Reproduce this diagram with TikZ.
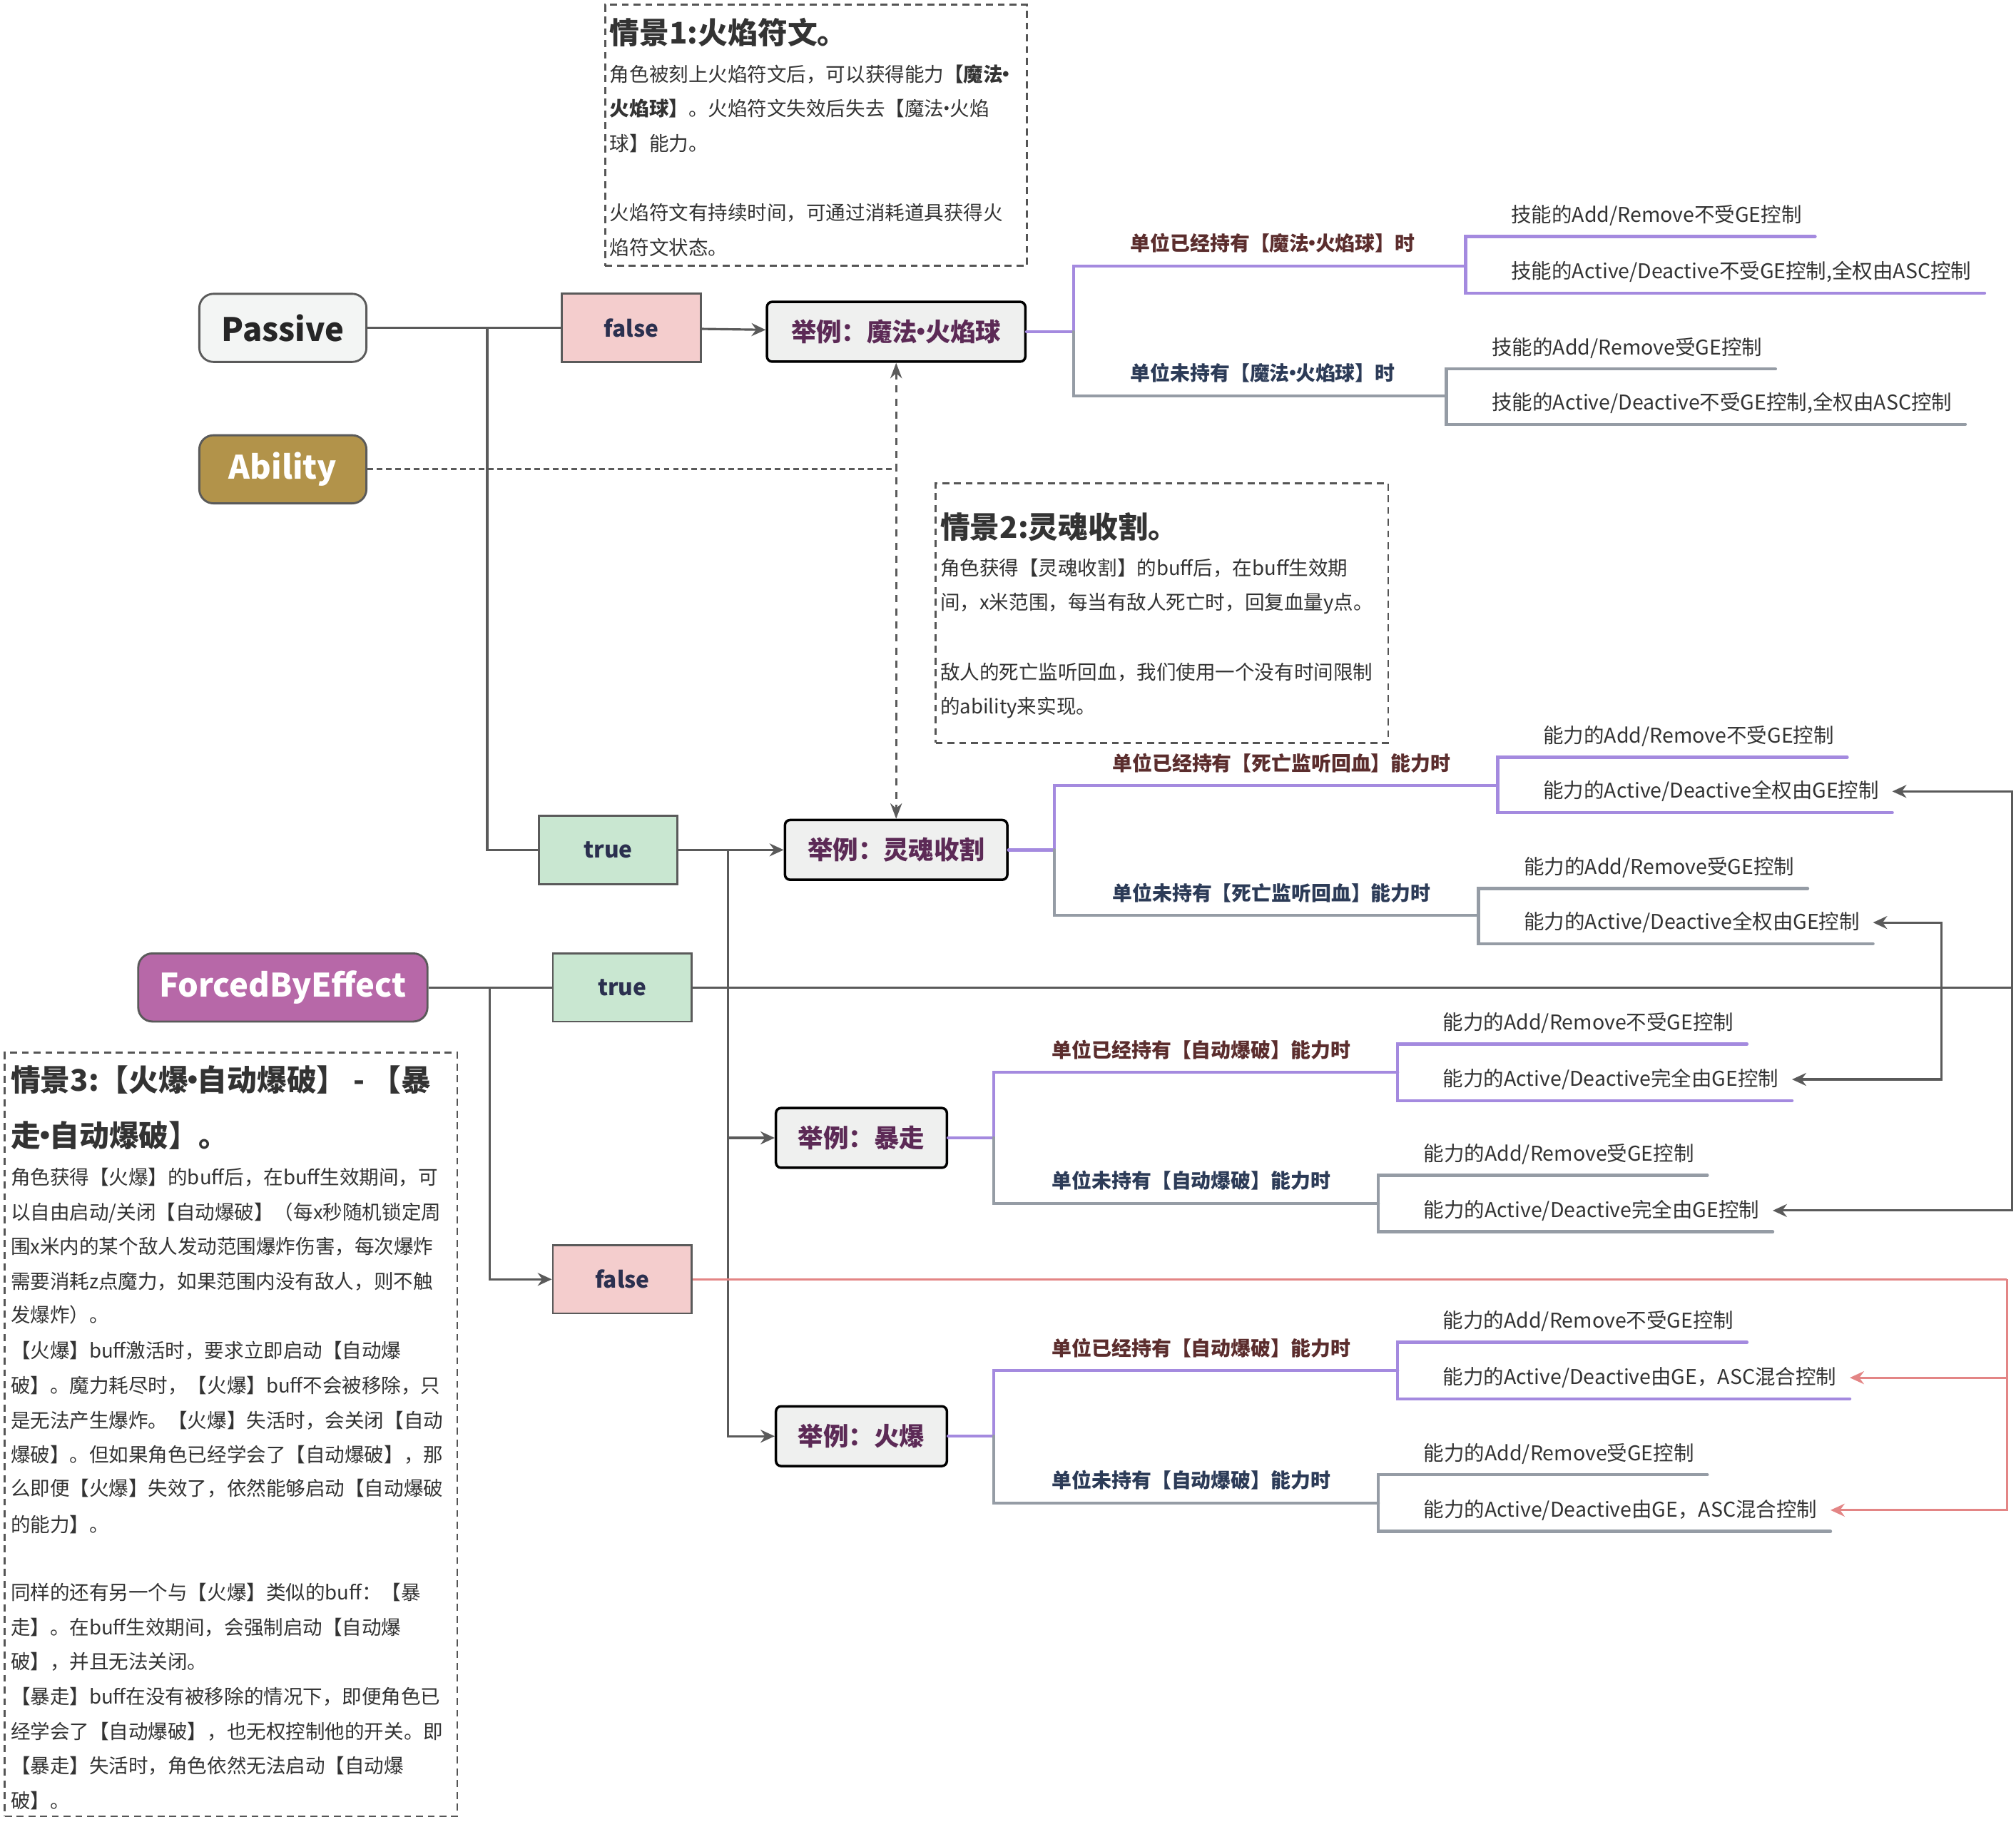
\documentclass[tikz,border=0pt]{standalone}
\usepackage{fontspec}
\setmainfont{Noto Sans CJK SC}
\usetikzlibrary{arrows.meta}
\definecolor{linegray}{HTML}{5A5A5A}
\definecolor{mmpurple}{HTML}{A48ADF}
\definecolor{mmgray}{HTML}{959CA5}
\definecolor{pinkline}{HTML}{E38585}
\definecolor{pasfill}{HTML}{F3F5F4}
\definecolor{ablfill}{HTML}{B2934A}
\definecolor{fbefill}{HTML}{B768A8}
\definecolor{falsefill}{HTML}{F4CDCD}
\definecolor{truefill}{HTML}{C9E7D1}
\definecolor{exfill}{HTML}{EFF0EF}
\definecolor{condtext}{HTML}{2B304F}
\definecolor{extext}{HTML}{5C2A56}
\definecolor{owncol}{HTML}{5B2D2D}
\definecolor{lackcol}{HTML}{2C3B57}
\definecolor{textdark}{HTML}{333333}
\definecolor{notegray}{HTML}{555555}
\newcommand{\ndot}{\makebox[0.3em][c]{·}}

\begin{document}
\begin{tikzpicture}[x=0.02cm, y=-0.02cm, >={Stealth[length=0.22cm,width=0.2cm]},
    conn/.style={draw=linegray, line width=1pt},
    pinkconn/.style={draw=pinkline, line width=1pt},
    pline/.style={draw=mmpurple, line width=1.4pt, line cap=round},
    gline/.style={draw=mmgray, line width=1.4pt, line cap=round},
    dotline/.style={draw=linegray, line width=1pt, dash pattern=on 2.5pt off 1.6pt},
    dashline/.style={draw=linegray, line width=1pt, dash pattern=on 3.2pt off 2.6pt, {Stealth[length=0.24cm,width=0.18cm]}-{Stealth[length=0.24cm,width=0.18cm]}},
    keybox/.style={draw=linegray, line width=0.9pt, rounded corners=0.22cm, minimum width=2.6cm, minimum height=1.06cm, font=\bfseries\fontsize{14.3}{16}\selectfont},
    condbox/.style={draw=linegray, line width=0.9pt, minimum width=2.16cm, minimum height=1.06cm, text=condtext, font=\bfseries\fontsize{10}{12}\selectfont},
    exbox/.style={draw=black, line width=1.1pt, rounded corners=0.08cm, fill=exfill, minimum height=0.93cm, text=extext, font=\bfseries\fontsize{11.2}{13}\selectfont},
    notebox/.style={draw=notegray, line width=0.85pt, dash pattern=on 3.1pt off 2.1pt, anchor=north west},
    titletext/.style={anchor=west, inner sep=0pt, text=textdark, font=\bfseries\fontsize{13.2}{15}\selectfont},
    bodytext/.style={anchor=west, inner sep=0pt, text height=0.8em, text depth=0.2em, text=textdark, font=\fontsize{8.7}{10}\selectfont},
    ownlabel/.style={anchor=west, inner sep=0pt, text height=0.8em, text depth=0.2em, text=owncol, font=\bfseries\fontsize{8.8}{10}\selectfont},
    lacklabel/.style={ownlabel, text=lackcol},
    leafnode/.style={anchor=west, inner xsep=0.2cm, inner ysep=0pt, text height=0.8em, text depth=0.2em, text=textdark, font=\fontsize{9}{10}\selectfont}]
    \useasboundingbox (0,0) rectangle (1568,1417);
    \fill[white] (0,0) rectangle (1568,1417);

    % situation notes
    \node[notebox, minimum width=6.56cm, minimum height=4.06cm] (s1) at (470,3) {};
    \node[titletext] (s1t) at (474,25) {情景1:火焰符文。};
    \foreach \Ypos/\LineText [count=\i] in {58/{角色被刻上火焰符文后，可以获得能力\textbf{【魔法\ndot}},
        85/{\textbf{火焰球】}。火焰符文失效后失去【魔法\ndot 火焰}, 112/{球】能力。},
        166/{火焰符文有持续时间，可通过消耗道具获得火}, 193/{焰符文状态。}}
        \node[bodytext] (s1l\i) at (474,\Ypos) {\LineText};

    \node[notebox, minimum width=7.04cm, minimum height=4.04cm] (s2) at (727,375) {};
    \node[titletext] (s2t) at (731,410) {情景2:灵魂收割。};
    \foreach \Ypos/\LineText [count=\i] in {442/{角色获得【灵魂收割】的buff后，在buff生效期},
        469/{间，x米范围，每当有敌人死亡时，回复血量y点。},
        523/{敌人的死亡监听回血，我们使用一个没有时间限制}, 550/{的ability来实现。}}
        \node[bodytext] (s2l\i) at (731,\Ypos) {\LineText};

    \node[notebox, minimum width=7.04cm, minimum height=11.88cm] (s3) at (3,818) {};
    \node[titletext] (s3t) at (8,840) {情景3:【火爆\ndot 自动爆破】 - 【暴};
    \node[titletext] (s3u) at (8,883) {走\ndot 自动爆破】。};
    \foreach \Ypos/\LineText [count=\i] in {916/{角色获得【火爆】的buff后，在buff生效期间，可},
        943/{以自由启动/关闭【自动爆破】（每x秒随机锁定周},
        970/{围x米内的某个敌人发动范围爆炸伤害，每次爆炸},
        997/{需要消耗z点魔力，如果范围内没有敌人，则不触},
        1023/{发爆炸）。},
        1051/{【火爆】buff激活时，要求立即启动【自动爆},
        1078/{破】。魔力耗尽时，【火爆】buff不会被移除，只},
        1105/{是无法产生爆炸。【火爆】失活时，会关闭【自动},
        1132/{爆破】。但如果角色已经学会了【自动爆破】，那},
        1158/{么即便【火爆】失效了，依然能够启动【自动爆破},
        1186/{的能力】。},
        1239/{同样的还有另一个与【火爆】类似的buff：【暴},
        1266/{走】。在buff生效期间，会强制启动【自动爆},
        1293/{破】，并且无法关闭。},
        1320/{【暴走】buff在没有被移除的情况下，即便角色已},
        1347/{经学会了【自动爆破】，也无权控制他的开关。即},
        1374/{【暴走】失活时，角色依然无法启动【自动爆},
        1401/{破】。}}
        \node[bodytext] (s3l\i) at (8,\Ypos) {\LineText};

    % tags and cases
    \node[keybox, fill=pasfill, text=black!85] (pas) at (220,255) {Passive};
    \node[keybox, fill=ablfill, text=white] (abl) at (220,365) {Ability};
    \node[keybox, fill=fbefill, text=white, minimum width=4.5cm] (fbe) at (220,768) {ForcedByEffect};
    \node[condbox, fill=falsefill] (fa1) at (491,255) {false};
    \node[condbox, fill=truefill] (tr1) at (473,661) {true};
    \node[condbox, fill=truefill] (tr2) at (484,768) {true};
    \node[condbox, fill=falsefill] (fa2) at (484,995) {false};
    \node[exbox, minimum width=4.02cm] (ex1) at (697,258) {举例：魔法\ndot 火焰球};
    \node[exbox, minimum width=3.46cm] (ex2) at (697,661) {举例：灵魂收割};
    \node[exbox, minimum width=2.66cm] (ex3) at (670,885) {举例：暴走};
    \node[exbox, minimum width=2.66cm] (ex4) at (670,1117) {举例：火爆};

    % 魔法·火焰球
    \coordinate (sa) at (835,258);
    \draw[pline] (ex1.east) -- (sa) |- (1140,207);
    \draw[gline] (sa) |- (1125,308);
    \node[ownlabel] (a1) at (879,190) {单位已经持有【魔法\ndot 火焰球】时};
    \node[lacklabel] (a2) at (879,291) {单位未持有【魔法\ndot 火焰球】时};
    \node[leafnode] (a11) at (1165,167.5) {技能的Add/Remove不受GE控制};
    \node[leafnode] (a12) at (1165,211.5) {技能的Active/Deactive不受GE控制,全权由ASC控制};
    \node[leafnode] (a21) at (1150,270.5) {技能的Add/Remove受GE控制};
    \node[leafnode] (a22) at (1150,313.5) {技能的Active/Deactive不受GE控制,全权由ASC控制};
    \draw[pline] (a11.east |- 0,184) -| (1140,228) -- (a12.east |- 0,228);
    \draw[gline] (a21.east |- 0,287) -| (1125,330) -- (a22.east |- 0,330);

    % 灵魂收割
    \coordinate (sb) at (820,661);
    \draw[pline] (ex2.east) -- (sb) |- (1165,611);
    \draw[gline] (sb) |- (1150,712);
    \node[ownlabel] (b1) at (865,594) {单位已经持有【死亡监听回血】能力时};
    \node[lacklabel] (b2) at (865,695) {单位未持有【死亡监听回血】能力时};
    \node[leafnode] (b11) at (1190,572.5) {能力的Add/Remove不受GE控制};
    \node[leafnode] (b12) at (1190,615.5) {能力的Active/Deactive全权由GE控制};
    \node[leafnode] (b21) at (1175,674.5) {能力的Add/Remove受GE控制};
    \node[leafnode] (b22) at (1175,717.5) {能力的Active/Deactive全权由GE控制};
    \draw[pline] (b11.east |- 0,589) -| (1165,632) -- (b12.east |- 0,632);
    \draw[gline] (b21.east |- 0,691) -| (1150,734) -- (b22.east |- 0,734);

    % 暴走
    \coordinate (sc) at (773,885);
    \draw[pline] (ex3.east) -- (sc) |- (1087,834);
    \draw[gline] (sc) |- (1072,936);
    \node[ownlabel] (c1) at (818,817) {单位已经持有【自动爆破】能力时};
    \node[lacklabel] (c2) at (818,919) {单位未持有【自动爆破】能力时};
    \node[leafnode] (c11) at (1112,795.5) {能力的Add/Remove不受GE控制};
    \node[leafnode] (c12) at (1112,839.5) {能力的Active/Deactive完全由GE控制};
    \node[leafnode] (c21) at (1097,897.5) {能力的Add/Remove受GE控制};
    \node[leafnode] (c22) at (1097,941.5) {能力的Active/Deactive完全由GE控制};
    \draw[pline] (c11.east |- 0,812) -| (1087,856) -- (c12.east |- 0,856);
    \draw[gline] (c21.east |- 0,914) -| (1072,958) -- (c22.east |- 0,958);

    % 火爆
    \coordinate (sd) at (773,1117);
    \draw[pline] (ex4.east) -- (sd) |- (1087,1066);
    \draw[gline] (sd) |- (1072,1169);
    \node[ownlabel] (d1) at (818,1049) {单位已经持有【自动爆破】能力时};
    \node[lacklabel] (d2) at (818,1152) {单位未持有【自动爆破】能力时};
    \node[leafnode] (d11) at (1112,1027.5) {能力的Add/Remove不受GE控制};
    \node[leafnode] (d12) at (1112,1071.5) {能力的Active/Deactive由GE，ASC混合控制};
    \node[leafnode] (d21) at (1097,1130.5) {能力的Add/Remove受GE控制};
    \node[leafnode] (d22) at (1097,1174.5) {能力的Active/Deactive由GE，ASC混合控制};
    \draw[pline] (d11.east |- 0,1044) -| (1087,1088) -- (d12.east |- 0,1088);
    \draw[gline] (d21.east |- 0,1147) -| (1072,1191) -- (d22.east |- 0,1191);

    % connectors
    \coordinate (p1) at (379,255);
    \coordinate (t1) at (566,661);
    \coordinate (f1) at (381,768);
    \coordinate (ab) at (697,365);
    \coordinate (r1) at (1565,768);
    \coordinate (r2) at (1510,768);
    \coordinate (r3) at (1561,995);
    \draw[conn] (pas) -- (fa1);
    \draw[conn] (p1) |- (tr1);
    \draw[conn,->] (fa1) -- (ex1);
    \draw[conn,->] (tr1) -- (ex2);
    \draw[conn,->] (t1) |- (ex3);
    \draw[conn,->] (t1) |- (ex4);
    \draw[conn] (fbe) -- (tr2);
    \draw[conn,->] (f1) |- (fa2);
    \draw[conn] (tr2) -- (r1);
    \draw[conn,->] (r1) |- (b12.east);
    \draw[conn,->] (r1) |- (c22.east);
    \draw[conn,->] (r2) |- (b22.east);
    \draw[conn,->] (r2) |- (c12.east);
    \draw[pinkconn] (fa2) -- (r3);
    \draw[pinkconn,->] (r3) |- (d12.east);
    \draw[pinkconn,->] (r3) |- (d22.east);
    \draw[dotline] (abl) -- (ab);
    \draw[dashline] (ex1) -- (ex2);
\end{tikzpicture}
\end{document}
